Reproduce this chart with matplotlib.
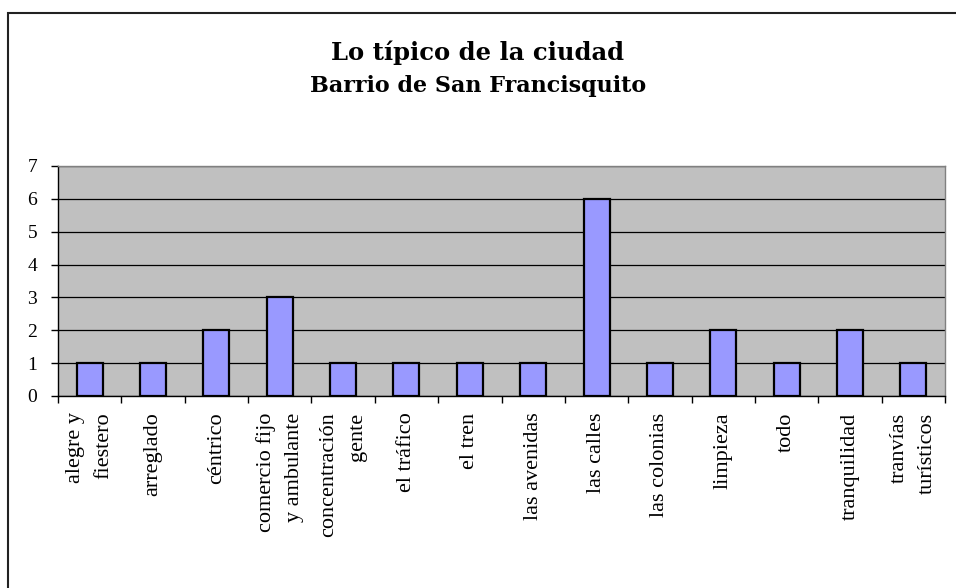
import matplotlib.pyplot as plt
import numpy as np
from matplotlib.patches import Rectangle

# Data
categories = ["alegre y\nfiestero", "arreglado", "céntrico", "comercio fijo\ny ambulante",
              "concentración\ngente", "el tráfico", "el tren", "las avenidas", "las calles",
              "las colonias", "limpieza", "todo", "tranquilidad", "tranvías\nturísticos"]
values = [1, 1, 2, 3, 1, 1, 1, 1, 6, 1, 2, 1, 2, 1]
y_ticks = [0, 1, 2, 3, 4, 5, 6, 7]

plt.rcParams['font.family'] = ['Liberation Serif', 'DejaVu Serif']

fig = plt.figure(figsize=(9.56, 5.88), dpi=100)
W, H = 956, 588
ax = fig.add_axes([58 / W, 1 - 396 / H, 887 / W, 230 / H])
ax.set_facecolor('#c0c0c0')

x = np.arange(len(categories))
ax.bar(x, values, width=0.41, color='#9999ff', edgecolor='black', linewidth=1.6, zorder=3)

ax.set_xlim(-0.5, len(categories) - 0.5)
ax.set_ylim(0, 7)
ax.set_yticks(y_ticks)
ax.yaxis.grid(True, color='black', linewidth=0.9, zorder=1)
ax.set_axisbelow(True)

# ticks at category boundaries, labels centred on bars
ax.set_xticks(np.arange(len(categories) + 1) - 0.5)
ax.set_xticklabels([])
ax.tick_params(axis='x', direction='out', length=5, width=1, color='black')
ax.tick_params(axis='y', direction='out', length=5, width=1, labelsize=14, pad=10)
for i, lab in enumerate(categories):
    ax.text(i, -0.5, lab, rotation=90, ha='center', va='top', multialignment='right',
            fontsize=16, linespacing=1.65, transform=ax.transData)

for s in ['left', 'bottom']:
    ax.spines[s].set_color('black')
    ax.spines[s].set_linewidth(1.0)
for s in ['top', 'right']:
    ax.spines[s].set_color('#808080')
    ax.spines[s].set_linewidth(1.0)

fig.text(0.5, 1 - 60 / H, "Lo típico de la ciudad", ha='center', va='baseline',
         fontsize=17.5, fontweight='bold', family='DejaVu Serif')
fig.text(0.5, 1 - 92 / H, "Barrio de San Francisquito", ha='center', va='baseline',
         fontsize=16, fontweight='bold', family='DejaVu Serif')

# chart frame
fig.patches.append(Rectangle((8 / W, -0.05), 1.1, 1 - 13 / H + 0.05, transform=fig.transFigure,
                             fill=False, edgecolor='#222222', linewidth=1.5))

fig.savefig("out.png", dpi=100)
